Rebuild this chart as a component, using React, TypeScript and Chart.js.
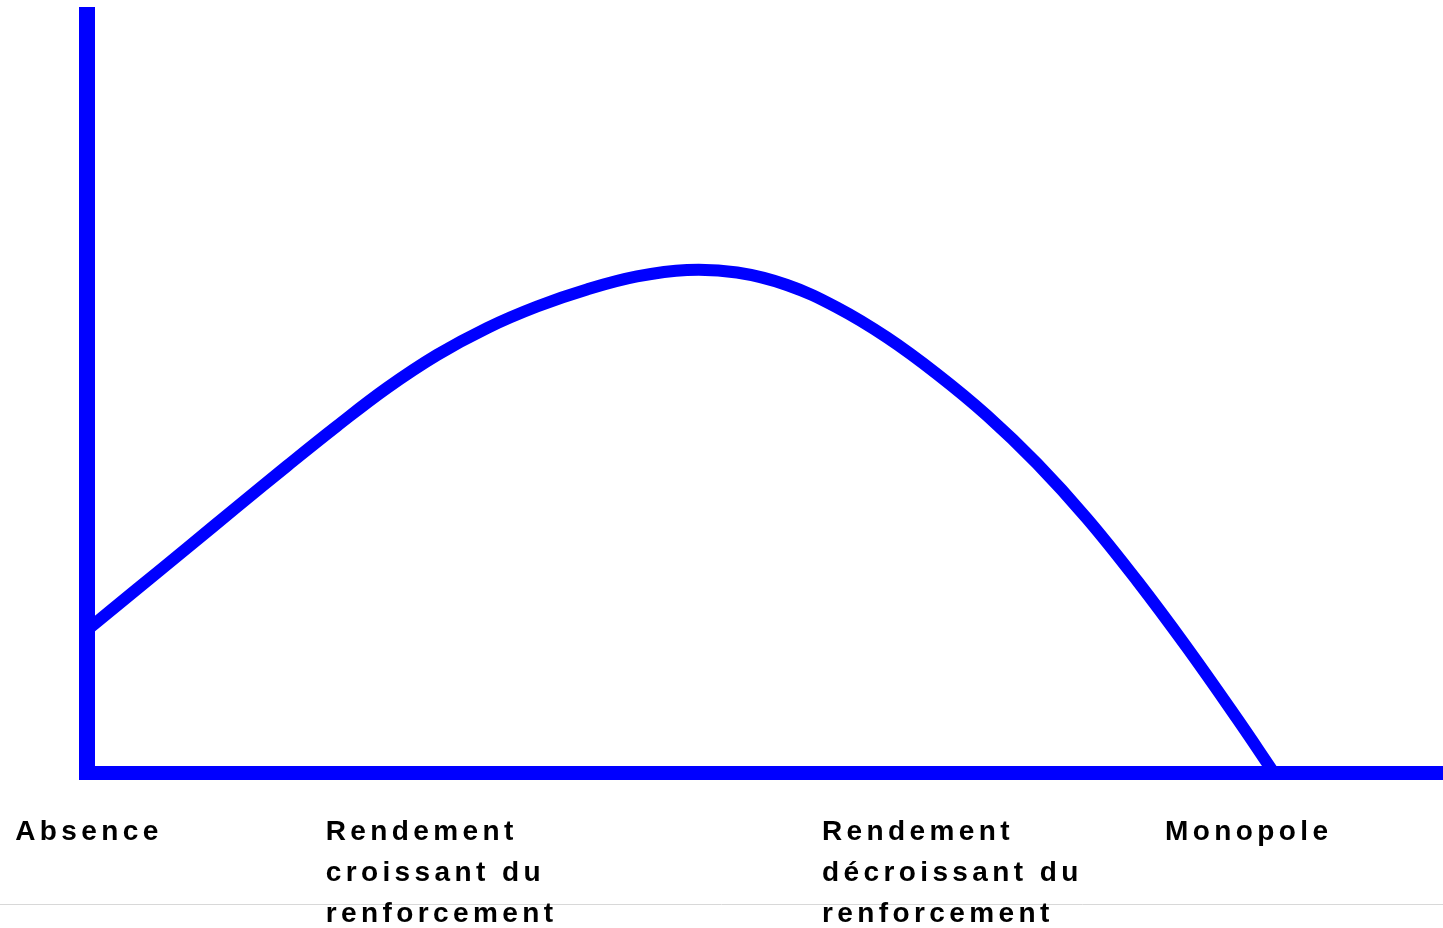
import React, { useEffect, useRef } from "react";
import { Chart, registerables } from "chart.js";

Chart.register(...registerables);

// Degree of reinforcement (x) and resulting performance (y), arbitrary units 0..100
const reinforcement = [
  0, 3.69, 7.37, 11.06, 14.75, 18.44, 22.12, 25.81, 29.5, 33.19, 36.87, 40.56, 44.25,
  47.94, 51.62, 55.31, 59.0, 62.68, 66.37, 70.06, 73.75, 77.43, 81.12, 84.81, 87.39,
];
const performance = [
  18.67, 24.02, 29.37, 34.73, 40.08, 45.3, 50.26, 54.57, 58.09, 60.9, 63.12, 64.82, 65.67,
  65.34, 63.71, 60.77, 56.85, 52.09, 46.67, 40.4, 33.22, 25.13, 16.38, 7.11, 0.39,
];

// Category labels under the x axis and the x value where each label starts
const categoryLabels: string[][] = [
  ["Absence"],
  ["Rendement", "croissant du", "renforcement"],
  ["Rendement", "décroissant du", "renforcement"],
  ["Monopole"],
];
const categoryPositions = [-5.3, 17.6, 54.2, 79.5];

const BLUE = "#0000ff";

export default function App() {
  const ref = useRef<HTMLCanvasElement>(null);

  useEffect(() => {
    if (!ref.current) return;

    const axesPlugin = {
      id: "drawnAxes",
      beforeDatasetsDraw(chart: any) {
        const { ctx, scales } = chart;
        const x = scales.x;
        const y = scales.y;
        const x0 = x.getPixelForValue(0);
        const y0 = y.getPixelForValue(0);
        ctx.save();
        ctx.strokeStyle = BLUE;
        ctx.lineCap = "butt";
        ctx.lineWidth = 16;
        ctx.beginPath();
        ctx.moveTo(x0, y.top);
        ctx.lineTo(x0, y0 + 7);
        ctx.stroke();
        ctx.lineWidth = 14;
        ctx.beginPath();
        ctx.moveTo(x0 - 8, y0);
        ctx.lineTo(chart.width, y0);
        ctx.stroke();
        ctx.restore();
      },
      afterDraw(chart: any) {
        const { ctx, scales } = chart;
        const x = scales.x;
        const y = scales.y;
        const y0 = y.getPixelForValue(0);
        ctx.save();
        ctx.strokeStyle = "#d8d8d8";
        ctx.lineWidth = 1;
        ctx.beginPath();
        ctx.moveTo(0, 904.5);
        ctx.lineTo(chart.width, 904.5);
        ctx.stroke();
        ctx.fillStyle = "#000000";
        ctx.font = 'bold 28px "Liberation Sans", Arial, sans-serif';
        (ctx as any).letterSpacing = "4.4px";
        ctx.textAlign = "left";
        ctx.textBaseline = "alphabetic";
        categoryLabels.forEach((lines, i) => {
          const px = x.getPixelForValue(categoryPositions[i]);
          lines.forEach((line, j) => {
            ctx.fillText(line, px, y0 + 67 + j * 41);
          });
        });
        ctx.restore();
      },
    };

    const chart = new Chart(ref.current, {
      type: "line",
      data: {
        datasets: [
          {
            data: reinforcement.map((v, i) => ({ x: v, y: performance[i] })),
            borderColor: BLUE,
            borderWidth: 12,
            pointRadius: 0,
            tension: 0.4,
            fill: false,
          },
        ],
      },
      options: {
        responsive: false,
        animation: false,
        layout: { padding: { left: 87, top: 7, right: 0, bottom: 155 } },
        plugins: {
          legend: { display: false },
          tooltip: { enabled: false },
        },
        scales: {
          x: { type: "linear", min: 0, max: 100, display: false },
          y: { type: "linear", min: 0, max: 100, display: false },
        },
      },
      plugins: [axesPlugin],
    });

    return () => chart.destroy();
  }, []);

  return (
    <div style={{ position: "fixed", left: 0, top: 0, width: 1443, height: 928, background: "#fff" }}>
      <canvas ref={ref} width={1443} height={928} style={{ display: "block" }} />
    </div>
  );
}
